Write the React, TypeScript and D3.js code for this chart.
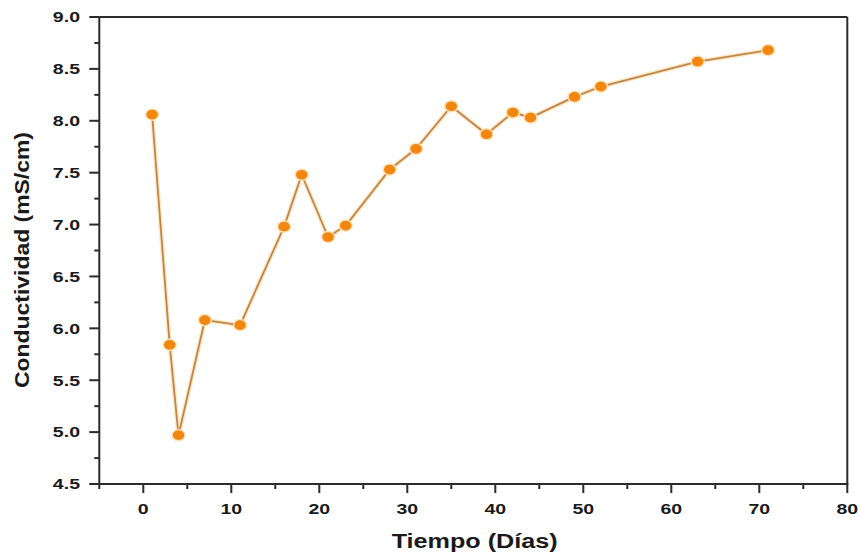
import React, { useEffect, useRef } from "react";
import * as d3 from "d3";

// Conductivity measured over time
const dias = [1, 3, 4, 7, 11, 16, 18, 21, 23, 28, 31, 35, 39, 42, 44, 49, 52, 63, 71];
const conductividad = [8.06, 5.84, 4.97, 6.08, 6.03, 6.98, 7.48, 6.88, 6.99, 7.53, 7.73, 8.14, 7.87, 8.08, 8.03, 8.23, 8.33, 8.57, 8.68];

const xTicks = [0, 10, 20, 30, 40, 50, 60, 70, 80];
const xMinorTicks = [-5, 5, 15, 25, 35, 45, 55, 65, 75];
const yTicks = [4.5, 5.0, 5.5, 6.0, 6.5, 7.0, 7.5, 8.0, 8.5, 9.0];
const yMinorTicks = [4.75, 5.25, 5.75, 6.25, 6.75, 7.25, 7.75, 8.25, 8.75];

const W = 859;
const H = 557;
const FONT = "'Liberation Sans', Arial, Helvetica, sans-serif";
const AXIS = "#2b2b2b";

export default function App() {
  const ref = useRef<SVGSVGElement | null>(null);

  useEffect(() => {
    const svg = d3.select(ref.current);
    svg.selectAll("*").remove();

    const x = d3.scaleLinear().domain([-5, 80]).range([99.3, 847.3]);
    const y = d3.scaleLinear().domain([4.5, 9.0]).range([484, 17]);

    const widen = (sel: any, k: number) =>
      sel.each(function (this: SVGTextElement) {
        const w = this.getComputedTextLength();
        d3.select(this).attr("textLength", w * k).attr("lengthAdjust", "spacingAndGlyphs");
      });

    // frame: top and right borders
    svg.append("line").attr("x1", x(-5)).attr("x2", x(80)).attr("y1", y(9)).attr("y2", y(9))
      .attr("stroke", AXIS).attr("stroke-width", 2);
    svg.append("line").attr("x1", x(80)).attr("x2", x(80)).attr("y1", y(9)).attr("y2", y(4.5))
      .attr("stroke", AXIS).attr("stroke-width", 2);

    // bottom axis
    const gx = svg.append("g");
    gx.append("line").attr("x1", x(-5)).attr("x2", x(80) + 1).attr("y1", y(4.5)).attr("y2", y(4.5))
      .attr("stroke", AXIS).attr("stroke-width", 2);
    gx.selectAll("line.maj").data(xTicks).join("line").attr("class", "maj")
      .attr("x1", (d) => x(d)).attr("x2", (d) => x(d))
      .attr("y1", y(4.5)).attr("y2", y(4.5) + 9)
      .attr("stroke", AXIS).attr("stroke-width", 2);
    gx.selectAll("line.min").data(xMinorTicks).join("line").attr("class", "min")
      .attr("x1", (d) => x(d)).attr("x2", (d) => x(d))
      .attr("y1", y(4.5)).attr("y2", y(4.5) + 5)
      .attr("stroke", AXIS).attr("stroke-width", 2);
    const xl = gx.selectAll("text").data(xTicks).join("text")
      .attr("x", (d) => x(d)).attr("y", 513.5)
      .attr("text-anchor", "middle")
      .attr("font-family", FONT).attr("font-weight", "bold").attr("font-size", 15)
      .attr("fill", "#1a1a1a")
      .text((d) => String(d));
    widen(xl, 1.3);

    // left axis
    const gy = svg.append("g");
    gy.append("line").attr("x1", x(-5)).attr("x2", x(-5)).attr("y1", y(9)).attr("y2", y(4.5))
      .attr("stroke", AXIS).attr("stroke-width", 2);
    gy.selectAll("line.maj").data(yTicks).join("line").attr("class", "maj")
      .attr("x1", x(-5) - 10).attr("x2", x(-5))
      .attr("y1", (d) => y(d)).attr("y2", (d) => y(d))
      .attr("stroke", AXIS).attr("stroke-width", 2);
    gy.selectAll("line.min").data(yMinorTicks).join("line").attr("class", "min")
      .attr("x1", x(-5) - 5).attr("x2", x(-5))
      .attr("y1", (d) => y(d)).attr("y2", (d) => y(d))
      .attr("stroke", AXIS).attr("stroke-width", 2);
    const yl = gy.selectAll("text").data(yTicks).join("text")
      .attr("x", 80).attr("y", (d) => y(d) + 5.3)
      .attr("text-anchor", "end")
      .attr("font-family", FONT).attr("font-weight", "bold").attr("font-size", 15)
      .attr("fill", "#1a1a1a")
      .text((d) => d.toFixed(1));
    widen(yl, 1.3);

    // axis titles
    svg.append("text")
      .attr("x", 474.7).attr("y", 548)
      .attr("text-anchor", "middle")
      .attr("font-family", FONT).attr("font-weight", "bold").attr("font-size", 20)
      .attr("fill", "#1a1a1a")
      .attr("textLength", 166).attr("lengthAdjust", "spacingAndGlyphs")
      .text("Tiempo (Días)");
    svg.append("text")
      .attr("transform", "translate(28.5,260) rotate(-90)")
      .attr("text-anchor", "middle")
      .attr("font-family", FONT).attr("font-weight", "bold").attr("font-size", 20)
      .attr("fill", "#1a1a1a")
      .attr("textLength", 256).attr("lengthAdjust", "spacingAndGlyphs")
      .text("Conductividad (mS/cm)");

    // series
    const pts = dias.map((d, i) => [d, conductividad[i]] as [number, number]);
    const line = d3.line<[number, number]>().x((d) => x(d[0])).y((d) => y(d[1]));

    svg.append("path").attr("d", line(pts) as string)
      .attr("fill", "none").attr("stroke", "#fcd9a4").attr("stroke-opacity", 0.6)
      .attr("stroke-width", 4.5).attr("stroke-linejoin", "round");
    svg.append("path").attr("d", line(pts) as string)
      .attr("fill", "none").attr("stroke", "#c08549")
      .attr("stroke-width", 1.8).attr("stroke-linejoin", "round");

    svg.selectAll("ellipse.dot").data(pts).join("ellipse").attr("class", "dot")
      .attr("cx", (d) => x(d[0])).attr("cy", (d) => y(d[1]))
      .attr("rx", 6.5).attr("ry", 5.6)
      .attr("fill", "#f3860f")
      .attr("stroke", "#fde2b8").attr("stroke-width", 1.5);
  }, []);

  return (
    <svg
      ref={ref}
      width={W}
      height={H}
      style={{ position: "absolute", left: 0, top: 0, background: "#fff" }}
    />
  );
}
